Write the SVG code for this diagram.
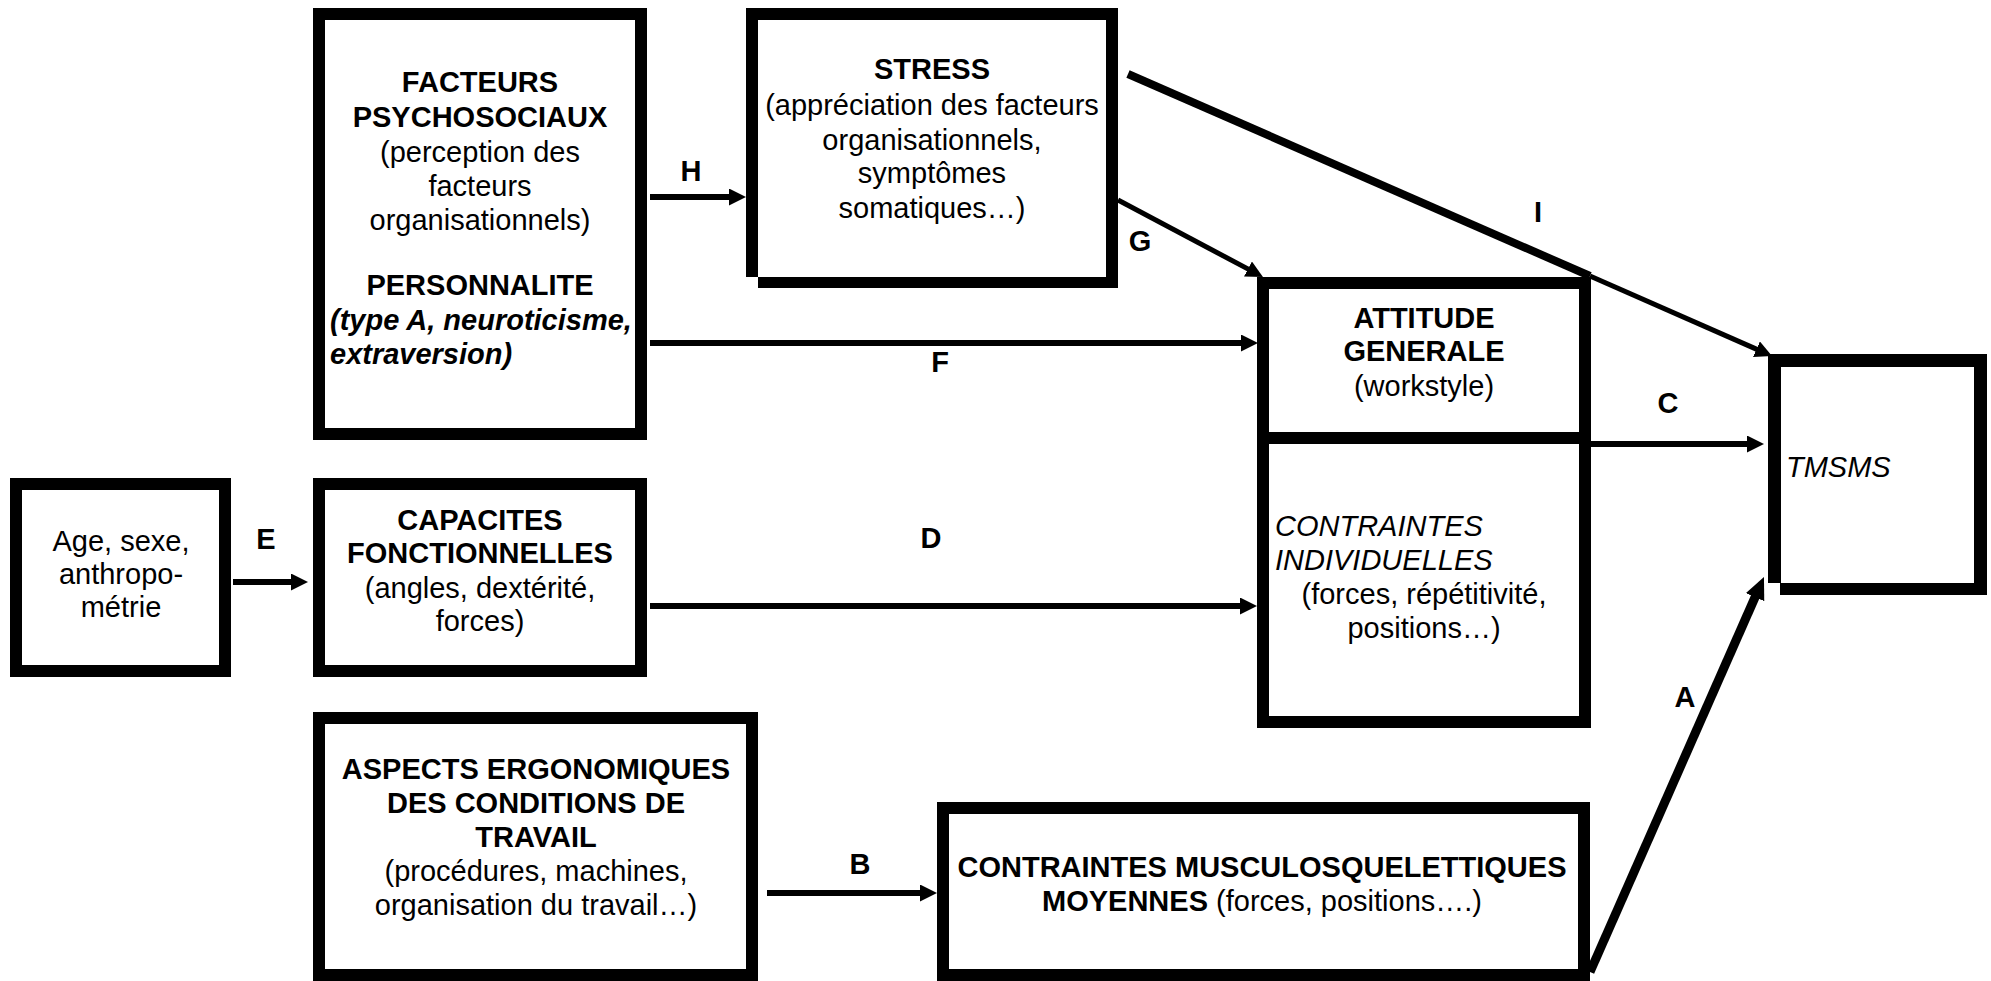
<svg xmlns="http://www.w3.org/2000/svg" width="1991" height="981" viewBox="0 0 1991 981">
<style>
  .box { fill: #fff; stroke: #000; stroke-width: 12; }
  .bar { fill: #000; }
  text { font-family: "Liberation Sans", Arial, sans-serif; font-size: 29px; fill: #000; }
  .c { text-anchor: middle; }
  .b { font-weight: bold; }
  .i { font-style: italic; }
  .ln { stroke: #000; stroke-width: 6; fill: none; }
  .lbl { font-weight: bold; text-anchor: middle; }
</style>
<defs>
  <marker id="ah" markerUnits="userSpaceOnUse" markerWidth="17" markerHeight="17" refX="3" refY="8.5" orient="auto">
    <path d="M0,0 L17,8.5 L0,17 z" fill="#000"/>
  </marker>
  <marker id="ahL" markerUnits="userSpaceOnUse" markerWidth="22" markerHeight="20" refX="3" refY="10" orient="auto">
    <path d="M0,0 L22,10 L0,20 z" fill="#000"/>
  </marker>
</defs>
<rect width="1991" height="981" fill="#fff"/>

<g id="connectors">
  <line class="ln" x1="650" y1="197" x2="732" y2="197" marker-end="url(#ah)"/>
  <line class="ln" x1="650" y1="343" x2="1244" y2="343" marker-end="url(#ah)"/>
  <line class="ln" x1="650" y1="606" x2="1243" y2="606" marker-end="url(#ah)"/>
  <line class="ln" x1="233" y1="582" x2="294" y2="582" marker-end="url(#ah)"/>
  <line class="ln" x1="767" y1="893" x2="923" y2="893" marker-end="url(#ah)"/>
  <line class="ln" x1="1591" y1="444" x2="1750" y2="444" marker-end="url(#ah)"/>
  <line class="ln" style="stroke-width:5" x1="1118" y1="200" x2="1250.6" y2="270.4" marker-end="url(#ah)"/>
  <line class="ln" style="stroke-width:8" x1="1128" y1="74" x2="1590" y2="276"/>
  <line class="ln" style="stroke-width:5" x1="1590" y1="276" x2="1759.2" y2="350.4" marker-end="url(#ah)"/>
  <line class="ln" style="stroke-width:9" x1="1590" y1="972" x2="1756.3" y2="594.4" marker-end="url(#ahL)"/>
  <text class="lbl" x="691" y="181">H</text>
  <text class="lbl" x="1140" y="251">G</text>
  <text class="lbl" x="940" y="372">F</text>
  <text class="lbl" x="1538" y="222">I</text>
  <text class="lbl" x="1668" y="413">C</text>
  <text class="lbl" x="931" y="548">D</text>
  <text class="lbl" x="266" y="549">E</text>
  <text class="lbl" x="860" y="874">B</text>
  <text class="lbl" x="1685" y="707">A</text>
</g>

<g id="facteurs">
  <rect class="box" x="319" y="14" width="322" height="420"/>
  <text class="c b" x="480" y="92">FACTEURS</text>
  <text class="c b" x="480" y="127">PSYCHOSOCIAUX</text>
  <text class="c" x="480" y="162">(perception des</text>
  <text class="c" x="480" y="196">facteurs</text>
  <text class="c" x="480" y="230">organisationnels)</text>
  <text class="c b" x="480" y="295">PERSONNALITE</text>
  <text class="b i" x="330" y="330">(type A, neuroticisme,</text>
  <text class="b i" x="330" y="364">extraversion)</text>
</g>

<g id="stress">
  <rect class="bar" x="746" y="8" width="372" height="12"/>
  <rect class="bar" x="746" y="8" width="12" height="269"/>
  <rect class="bar" x="1106" y="8" width="12" height="280"/>
  <rect class="bar" x="758" y="277" width="360" height="11"/>
  <text class="c b" x="932" y="79">STRESS</text>
  <text class="c" x="932" y="115">(appréciation des facteurs</text>
  <text class="c" x="932" y="150">organisationnels,</text>
  <text class="c" x="932" y="183">symptômes</text>
  <text class="c" x="932" y="218">somatiques…)</text>
</g>

<g id="attitude">
  <rect class="box" x="1263" y="283" width="322" height="439"/>
  <rect class="bar" x="1263" y="432" width="322" height="12"/>
  <text class="c b" x="1424" y="328">ATTITUDE</text>
  <text class="c b" x="1424" y="361">GENERALE</text>
  <text class="c" x="1424" y="396">(workstyle)</text>
  <text class="i" x="1275" y="536">CONTRAINTES</text>
  <text class="i" x="1275" y="570">INDIVIDUELLES</text>
  <text class="c" x="1424" y="604">(forces, répétitivité,</text>
  <text class="c" x="1424" y="638">positions…)</text>
</g>

<g id="tmsms">
  <rect class="bar" x="1768" y="354" width="219" height="13"/>
  <rect class="bar" x="1768" y="354" width="13" height="229"/>
  <rect class="bar" x="1974" y="354" width="13" height="241"/>
  <rect class="bar" x="1780" y="583" width="207" height="12"/>
  <text class="i" x="1786" y="477">TMSMS</text>
</g>

<g id="age">
  <rect class="box" x="16" y="484" width="209" height="187"/>
  <text class="c" x="121" y="551">Age, sexe,</text>
  <text class="c" x="121" y="584">anthropo-</text>
  <text class="c" x="121" y="617">métrie</text>
</g>

<g id="capacites">
  <rect class="box" x="319" y="484" width="322" height="187"/>
  <text class="c b" x="480" y="530">CAPACITES</text>
  <text class="c b" x="480" y="563">FONCTIONNELLES</text>
  <text class="c" x="480" y="598">(angles, dextérité,</text>
  <text class="c" x="480" y="631">forces)</text>
</g>

<g id="aspects">
  <rect class="box" x="319" y="718" width="433" height="257"/>
  <text class="c b" x="536" y="779">ASPECTS ERGONOMIQUES</text>
  <text class="c b" x="536" y="813">DES CONDITIONS DE</text>
  <text class="c b" x="536" y="847">TRAVAIL</text>
  <text class="c" x="536" y="881">(procédures, machines,</text>
  <text class="c" x="536" y="915">organisation du travail…)</text>
</g>

<g id="musculo">
  <rect class="box" x="943" y="808" width="641" height="167"/>
  <text class="c b" x="1262" y="877">CONTRAINTES MUSCULOSQUELETTIQUES</text>
  <text class="c" x="1262" y="911"><tspan class="b">MOYENNES</tspan> (forces, positions….)</text>
</g>
</svg>
